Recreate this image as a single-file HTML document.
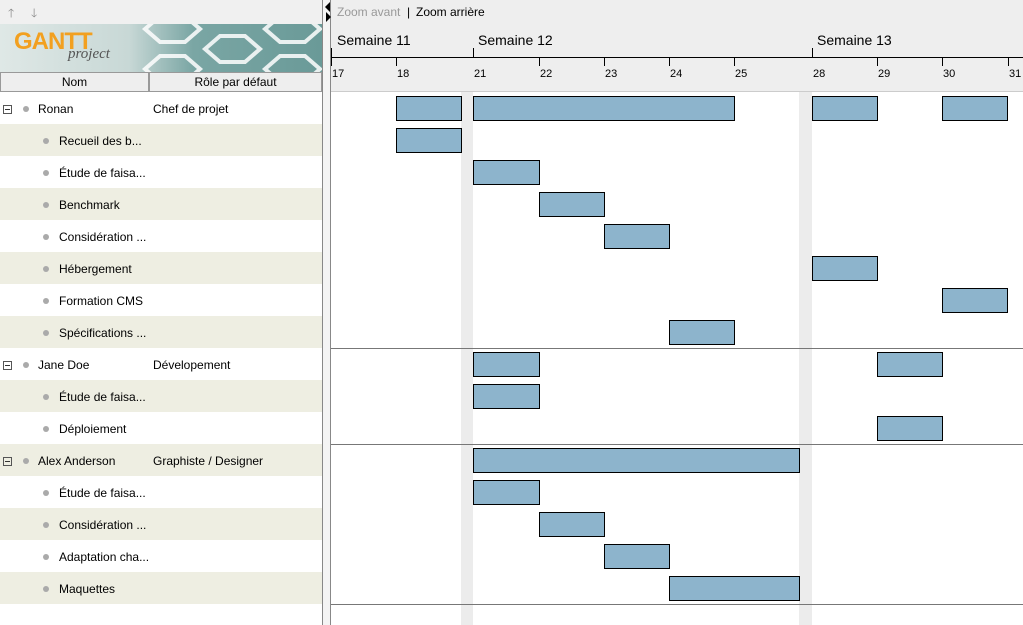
<!DOCTYPE html>
<html><head><meta charset="utf-8"><style>
body{margin:0;width:1023px;height:625px;overflow:hidden;background:#fff;font-family:"Liberation Sans",sans-serif;font-size:12px;color:#000;position:relative}
div{position:absolute;box-sizing:border-box}
.row{left:0;width:322px;height:32px}
.t{white-space:nowrap;line-height:34px}
.dot{width:6px;height:6px;border-radius:3px;background:#aaa;top:14px}
.bar{height:25px;background:#8db4cc;border:1px solid #000}
.day{top:68px;font-size:11px}
.tk{width:1px;background:#000}
.hl{height:1px;background:#777;left:331px;width:692px}
.box{width:9px;height:9px;border:1px solid #555;top:13px;left:3px}
.box:after{content:"";position:absolute;left:1px;top:3px;width:5px;height:1px;background:#333}
</style></head><body>
<div style="left:0;top:0;width:322px;height:24px;background:#f0f0f0"></div>
<div style="left:8px;top:4px;color:#888;font-size:12px">🡑</div>
<div style="left:31px;top:4px;color:#888;font-size:12px">🡓</div>
<div style="left:0;top:24px;width:322px;height:48px;background:linear-gradient(90deg,#dfe8e6 0,#c8d8d6 40%,#7aa6a4 60%,#6a9a98 100%)">
<svg width="322" height="48" style="position:absolute;left:0;top:0">
<g fill="none" stroke="#fff" stroke-width="4" opacity=".85">
<polygon points="145,5 160,-8 185,-8 200,5 185,18 160,18"/>
<polygon points="205,25 220,12 245,12 260,25 245,38 220,38"/>
<polygon points="265,5 280,-8 305,-8 320,5 305,18 280,18"/>
<polygon points="265,45 280,32 305,32 320,45 305,58 280,58"/>
<polygon points="145,45 160,32 185,32 200,45 185,58 160,58"/>
</g></svg>
<div style="left:14px;top:4px;font-size:24px;font-weight:bold;color:#f2a020;letter-spacing:-1px">GANTT</div>
<div style="left:68px;top:22px;font-family:'Liberation Serif',serif;font-style:italic;font-size:15px;color:#555">project</div>
</div>
<div style="left:0;top:72px;width:149px;height:20px;background:#eee;border:1px solid #999;text-align:center;line-height:18px">Nom</div>
<div style="left:149px;top:72px;width:173px;height:20px;background:#eee;border:1px solid #999;text-align:center;line-height:18px">Rôle par défaut</div>
<div style="left:322px;top:0;width:9px;height:625px;background:#f4f4f4;border-left:1px solid #888;border-right:1px solid #888"></div>
<div style="left:325px;top:2px;width:0;height:0;border-top:5px solid transparent;border-bottom:5px solid transparent;border-right:5px solid #000"></div>
<div style="left:326px;top:12px;width:0;height:0;border-top:5px solid transparent;border-bottom:5px solid transparent;border-left:5px solid #000"></div>

<div style="left:331px;top:0;width:692px;height:92px;background:#eee;border-bottom:1px solid #ccc"></div>
<div style="left:337px;top:5px;color:#999">Zoom avant</div>
<div style="left:407px;top:5px">|</div>
<div style="left:416px;top:5px">Zoom arrière</div>
<div style="left:337px;top:32px;font-size:14px">Semaine 11</div>
<div style="left:478px;top:32px;font-size:14px">Semaine 12</div>
<div style="left:817px;top:32px;font-size:14px">Semaine 13</div>
<div style="left:331px;top:57px;width:692px;height:1px;background:#000"></div>
<div class="tk" style="left:331px;top:48px;height:18px"></div>
<div class="tk" style="left:473px;top:48px;height:10px"></div>
<div class="tk" style="left:812px;top:48px;height:10px"></div>
<div class="tk" style="left:396px;top:58px;height:8px"></div>
<div class="tk" style="left:539px;top:58px;height:8px"></div>
<div class="tk" style="left:604px;top:58px;height:8px"></div>
<div class="tk" style="left:669px;top:58px;height:8px"></div>
<div class="tk" style="left:734px;top:58px;height:8px"></div>
<div class="tk" style="left:877px;top:58px;height:8px"></div>
<div class="tk" style="left:942px;top:58px;height:8px"></div>
<div class="tk" style="left:1008px;top:58px;height:8px"></div>
<div class="day" style="left:332px">17</div><div class="day" style="left:397px">18</div><div class="day" style="left:474px">21</div><div class="day" style="left:540px">22</div><div class="day" style="left:605px">23</div><div class="day" style="left:670px">24</div><div class="day" style="left:735px">25</div><div class="day" style="left:813px">28</div><div class="day" style="left:878px">29</div><div class="day" style="left:943px">30</div><div class="day" style="left:1009px">31</div>
<div style="left:461px;top:92px;width:12px;height:533px;background:#ececec"></div>
<div style="left:799px;top:92px;width:13px;height:533px;background:#ececec"></div>
<div class="hl" style="top:348px"></div><div class="hl" style="top:444px"></div><div class="hl" style="top:604px"></div>

<div class="row" style="top:92px"><div class="box"></div><div class="dot" style="left:23px"></div><div class="t" style="left:38px">Ronan</div><div class="t" style="left:153px">Chef de projet</div></div>
<div class="row" style="top:124px;background:#eeeee2"><div class="dot" style="left:43px"></div><div class="t" style="left:59px">Recueil des b...</div></div>
<div class="row" style="top:156px"><div class="dot" style="left:43px"></div><div class="t" style="left:59px">Étude de faisa...</div></div>
<div class="row" style="top:188px;background:#eeeee2"><div class="dot" style="left:43px"></div><div class="t" style="left:59px">Benchmark</div></div>
<div class="row" style="top:220px"><div class="dot" style="left:43px"></div><div class="t" style="left:59px">Considération ...</div></div>
<div class="row" style="top:252px;background:#eeeee2"><div class="dot" style="left:43px"></div><div class="t" style="left:59px">Hébergement</div></div>
<div class="row" style="top:284px"><div class="dot" style="left:43px"></div><div class="t" style="left:59px">Formation CMS</div></div>
<div class="row" style="top:316px;background:#eeeee2"><div class="dot" style="left:43px"></div><div class="t" style="left:59px">Spécifications ...</div></div>
<div class="row" style="top:348px"><div class="box"></div><div class="dot" style="left:23px"></div><div class="t" style="left:38px">Jane Doe</div><div class="t" style="left:153px">Dévelopement</div></div>
<div class="row" style="top:380px;background:#eeeee2"><div class="dot" style="left:43px"></div><div class="t" style="left:59px">Étude de faisa...</div></div>
<div class="row" style="top:412px"><div class="dot" style="left:43px"></div><div class="t" style="left:59px">Déploiement</div></div>
<div class="row" style="top:444px;background:#eeeee2"><div class="box"></div><div class="dot" style="left:23px"></div><div class="t" style="left:38px">Alex Anderson</div><div class="t" style="left:153px">Graphiste / Designer</div></div>
<div class="row" style="top:476px"><div class="dot" style="left:43px"></div><div class="t" style="left:59px">Étude de faisa...</div></div>
<div class="row" style="top:508px;background:#eeeee2"><div class="dot" style="left:43px"></div><div class="t" style="left:59px">Considération ...</div></div>
<div class="row" style="top:540px"><div class="dot" style="left:43px"></div><div class="t" style="left:59px">Adaptation cha...</div></div>
<div class="row" style="top:572px;background:#eeeee2"><div class="dot" style="left:43px"></div><div class="t" style="left:59px">Maquettes</div></div>

<div class="bar" style="top:96px;left:396px;width:66px"></div>
<div class="bar" style="top:96px;left:473px;width:262px"></div>
<div class="bar" style="top:96px;left:812px;width:66px"></div>
<div class="bar" style="top:96px;left:942px;width:66px"></div>
<div class="bar" style="top:128px;left:396px;width:66px"></div>
<div class="bar" style="top:160px;left:473px;width:67px"></div>
<div class="bar" style="top:192px;left:539px;width:66px"></div>
<div class="bar" style="top:224px;left:604px;width:66px"></div>
<div class="bar" style="top:256px;left:812px;width:66px"></div>
<div class="bar" style="top:288px;left:942px;width:66px"></div>
<div class="bar" style="top:320px;left:669px;width:66px"></div>
<div class="bar" style="top:352px;left:473px;width:67px"></div>
<div class="bar" style="top:352px;left:877px;width:66px"></div>
<div class="bar" style="top:384px;left:473px;width:67px"></div>
<div class="bar" style="top:416px;left:877px;width:66px"></div>
<div class="bar" style="top:448px;left:473px;width:327px"></div>
<div class="bar" style="top:480px;left:473px;width:67px"></div>
<div class="bar" style="top:512px;left:539px;width:66px"></div>
<div class="bar" style="top:544px;left:604px;width:66px"></div>
<div class="bar" style="top:576px;left:669px;width:131px"></div>
</body></html>
